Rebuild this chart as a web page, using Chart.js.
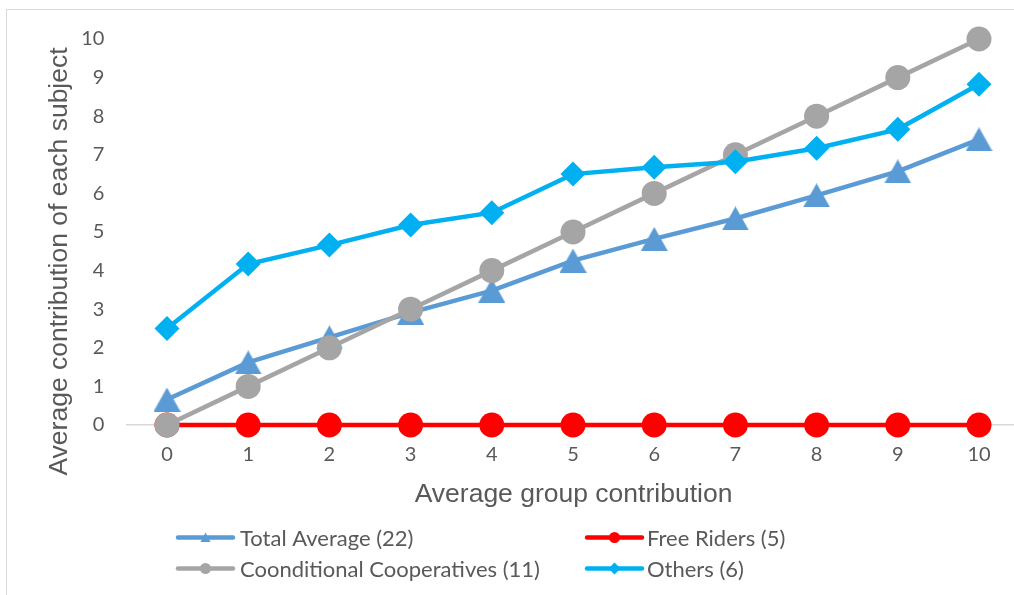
<!DOCTYPE html>
<html>
<head>
<meta charset="utf-8">
<script src="https://cdn.jsdelivr.net/npm/chart.js@4/dist/chart.umd.min.js"></script>
<style>
  html, body { margin: 0; padding: 0; background: #ffffff; overflow: hidden; width: 1014px; height: 595px; }
  #frame { position: absolute; left: 6px; top: 9px; width: 1100px; height: 700px; border: 1px solid #d9d9d9; box-sizing: border-box; }
  #chart { position: absolute; left: 0; top: 0; }
</style>
</head>
<body>
<div id="frame"></div>
<canvas id="chart" width="1040" height="595"></canvas>
<script>
// Average group contribution (x categories)
const groupContribution = ['0', '1', '2', '3', '4', '5', '6', '7', '8', '9', '10'];

// Average contribution of each subject, per type
const totalAverage = [0.66, 1.62, 2.27, 2.91, 3.48, 4.26, 4.82, 5.35, 5.95, 6.57, 7.40];
const freeRiders = [0, 0, 0, 0, 0, 0, 0, 0, 0, 0, 0];
const conditionalCooperatives = [0, 1, 2, 3, 4, 5, 6, 7, 8, 9, 10];
const others = [2.50, 4.17, 4.66, 5.18, 5.50, 6.50, 6.68, 6.82, 7.17, 7.66, 8.83];

const seriesLabels = ['Total Average (22)', 'Free Riders (5)', 'Coonditional Cooperatives (11)', 'Others (6)'];

const xTitle = 'Average group contribution';
const yTitle = 'Average contribution of each subject';

const COL_TOTAL = '#5B9BD5';
const COL_FREE = '#FF0000';
const COL_COND = '#A5A5A5';
const COL_OTHER = '#00B0F0';
const TEXT = '#595959';

// Triangle marker centred on its bounding box
function triangleMarker(w, h, color) {
  const c = document.createElement('canvas');
  c.width = w; c.height = h;
  const g = c.getContext('2d');
  g.fillStyle = color;
  g.beginPath();
  g.moveTo(w / 2, 0);
  g.lineTo(w, h);
  g.lineTo(0, h);
  g.closePath();
  g.fill();
  return c;
}

const triBig = triangleMarker(27, 24, COL_TOTAL);

// Axis titles and the two-column legend
const decorations = {
  id: 'decorations',
  afterDraw(chart) {
    const ctx = chart.ctx;
    ctx.save();
    ctx.fillStyle = TEXT;
    ctx.font = "26.5px 'Liberation Sans', Arial, sans-serif";
    ctx.textAlign = 'center';
    ctx.textBaseline = 'alphabetic';
    ctx.fillText(xTitle, 573.5, 502);

    ctx.save();
    ctx.translate(67, 261.5);
    ctx.rotate(-Math.PI / 2);
    ctx.fillText(yTitle, 0, 0);
    ctx.restore();

    const lineX = [178, 587];
    const textX = [240, 647];
    const rowY = [537.5, 568.5];
    chart.data.datasets.forEach((ds, i) => {
      const col = i % 2, row = Math.floor(i / 2);
      const x0 = lineX[col], x1 = x0 + 55, y = rowY[row];
      ctx.strokeStyle = ds.borderColor;
      ctx.lineWidth = 4.5;
      ctx.lineCap = 'round';
      ctx.beginPath();
      ctx.moveTo(x0, y);
      ctx.lineTo(x1, y);
      ctx.stroke();
      const cx = (x0 + x1) / 2;
      ctx.fillStyle = ds.borderColor;
      ctx.beginPath();
      if (ds.legendMarker === 'triangle') {
        ctx.moveTo(cx, y - 5); ctx.lineTo(cx + 5, y + 4.5); ctx.lineTo(cx - 5, y + 4.5);
      } else if (ds.legendMarker === 'diamond') {
        ctx.moveTo(cx, y - 6); ctx.lineTo(cx + 6, y); ctx.lineTo(cx, y + 6); ctx.lineTo(cx - 6, y);
      } else {
        ctx.arc(cx, y, 5.5, 0, Math.PI * 2);
      }
      ctx.closePath();
      ctx.fill();
      ctx.fillStyle = TEXT;
      ctx.font = "22px Lato, 'Open Sans', sans-serif";
      ctx.textAlign = 'left';
      ctx.textBaseline = 'middle';
      ctx.fillText(ds.label, textX[col], y + 1);
    });
    ctx.restore();
  }
};

new Chart(document.getElementById('chart'), {
  type: 'line',
  data: {
    labels: groupContribution,
    datasets: [
      {
        label: seriesLabels[0], data: totalAverage, order: 3,
        borderColor: COL_TOTAL, backgroundColor: COL_TOTAL,
        borderWidth: 4.5, pointStyle: triBig, legendMarker: 'triangle', clip: false
      },
      {
        label: seriesLabels[1], data: freeRiders, order: 2,
        borderColor: COL_FREE, backgroundColor: COL_FREE,
        borderWidth: 4.5, pointStyle: 'circle', pointRadius: 12.5, pointBorderWidth: 0, legendMarker: 'circle', clip: false
      },
      {
        label: seriesLabels[2], data: conditionalCooperatives, order: 1,
        borderColor: COL_COND, backgroundColor: COL_COND,
        borderWidth: 4.5, pointStyle: 'circle', pointRadius: 12.5, pointBorderWidth: 0, legendMarker: 'circle', clip: false
      },
      {
        label: seriesLabels[3], data: others, order: 0,
        borderColor: COL_OTHER, backgroundColor: COL_OTHER,
        borderWidth: 4.5, pointStyle: 'rectRot', pointRadius: 12.5, pointBorderWidth: 0, legendMarker: 'diamond', clip: false
      }
    ]
  },
  options: {
    responsive: false,
    animation: false,
    events: [],
    layout: { padding: { left: 0, top: 39, right: 20.4, bottom: 0 } },
    elements: { line: { tension: 0 } },
    plugins: {
      legend: { display: false },
      tooltip: { enabled: false },
      title: { display: false }
    },
    scales: {
      x: {
        type: 'category',
        offset: true,
        grid: { display: false, drawTicks: false },
        border: { display: true, color: '#d9d9d9', width: 1.5 },
        ticks: { color: TEXT, font: { family: 'Lato', size: 20 }, padding: 18, maxRotation: 0, autoSkip: false },
        afterFit(s) { s.height = 170; }
      },
      y: {
        min: 0, max: 10,
        grid: { display: false, drawTicks: false },
        border: { display: false },
        ticks: { stepSize: 1, color: TEXT, font: { family: 'Lato', size: 20 }, padding: 22 },
        afterFit(s) { s.width = 126.4; }
      }
    }
  },
  plugins: [decorations]
});
</script>
</body>
</html>
